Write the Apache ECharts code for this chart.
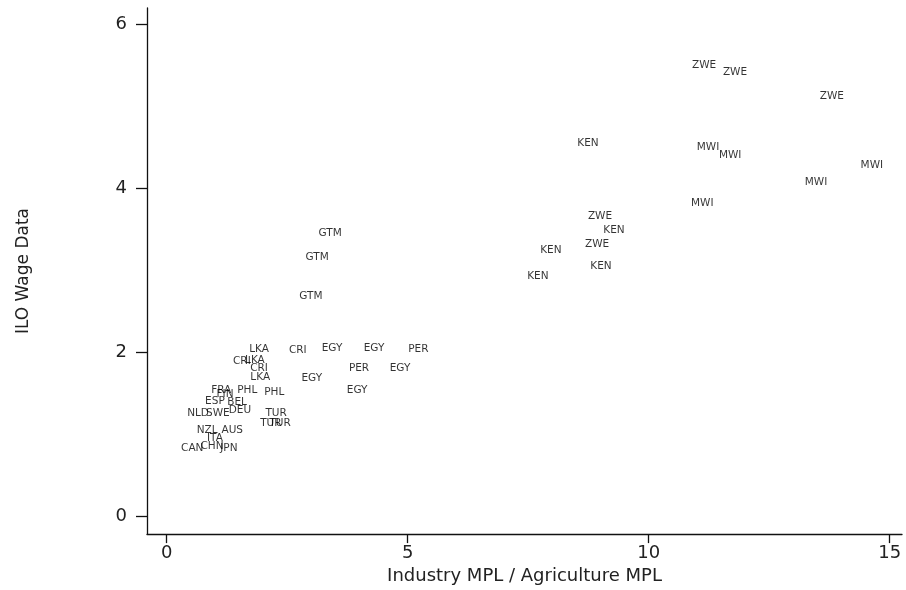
<!DOCTYPE html>
<html>
<head>
<meta charset="utf-8">
<script src="https://cdn.jsdelivr.net/npm/echarts@6/dist/echarts.min.js"></script>
<style>
  html, body { margin: 0; padding: 0; background: #fff; }
  #chart { width: 906px; height: 590px; }
</style>
</head>
<body>
<div id="chart"></div>
<script>
// Country labels and their coordinates (x: Industry MPL / Agriculture MPL, y: ILO wage data)
const countryLabels = [
  "ZWE","ZWE","ZWE","KEN","MWI","MWI","MWI","MWI","MWI","ZWE","KEN","ZWE","KEN","KEN","KEN",
  "GTM","GTM","GTM","CRI","EGY","EGY","PER","PER","EGY","EGY","EGY",
  "LKA","CRI","LKA","CRI","LKA","PHL","PHL","FRA","FIN","ESP","BEL","NLD","SWE","DEU","TUR","TUR","TUR","NZL","AUS","ITA","CAN","CHN","JPN"
];
const mplRatio = [
  11.15, 11.79, 13.80, 8.74, 11.23, 11.69, 14.63, 13.47, 11.11, 8.99, 9.28, 8.93, 7.97, 9.01, 7.70,
  3.39, 3.12, 2.99, 2.72, 3.43, 4.30, 5.22, 3.99, 4.84, 3.01, 3.95,
  1.915, 1.56, 1.83, 1.915, 1.94, 1.67, 2.23, 1.13, 1.21, 1.00, 1.46, 0.65, 1.06, 1.52, 2.27, 2.16, 2.35, 0.84, 1.36, 1.00, 0.53, 0.94, 1.29
];
const wageRatio = [
  5.51, 5.42, 5.13, 4.55, 4.50, 4.40, 4.28, 4.07, 3.82, 3.66, 3.49, 3.32, 3.25, 3.05, 2.93,
  3.45, 3.16, 2.68, 2.03, 2.05, 2.05, 2.04, 1.80, 1.80, 1.68, 1.53,
  2.04, 1.89, 1.90, 1.81, 1.69, 1.53, 1.51, 1.53, 1.49, 1.40, 1.39, 1.25, 1.26, 1.29, 1.26, 1.13, 1.13, 1.05, 1.05, 0.95, 0.83, 0.85, 0.83
];
const xTicks = [0, 5, 10, 15];
const yTicks = [0, 2, 4, 6];
const xTitle = "Industry MPL / Agriculture MPL";
const yTitle = "ILO Wage Data";

const points = countryLabels.map((c, i) => ({ name: c, value: [mplRatio[i], wageRatio[i]] }));

const chart = echarts.init(document.getElementById('chart'), null, { renderer: 'canvas' });
const axisFont = 'DejaVu Sans';
chart.setOption({
  animation: false,
  backgroundColor: '#ffffff',
  grid: { left: 147, right: 4, top: 8, bottom: 50, containLabel: false },
  xAxis: {
    type: 'value',
    min: -0.409, max: 15.255,
    name: xTitle,
    nameLocation: 'middle',
    nameGap: 25,
    nameTextStyle: { fontFamily: axisFont, fontSize: 18, color: '#222' },
    axisLine: { show: true, onZero: false, lineStyle: { color: '#111', width: 1.3 } },
    axisTick: { show: true, length: 9, customValues: xTicks, lineStyle: { color: '#111', width: 1.3 } },
    axisLabel: { show: true, customValues: xTicks, margin: 10, fontFamily: axisFont, fontSize: 18, color: '#222' },
    splitLine: { show: false }
  },
  yAxis: {
    type: 'value',
    min: -0.221, max: 6.204,
    name: yTitle,
    nameLocation: 'middle',
    nameRotate: 90,
    nameGap: 115,
    nameTextStyle: { fontFamily: axisFont, fontSize: 17, color: '#222' },
    axisLine: { show: true, onZero: false, lineStyle: { color: '#111', width: 1.3 } },
    axisTick: { show: true, length: 11, customValues: yTicks, lineStyle: { color: '#111', width: 1.3 } },
    axisLabel: { show: true, customValues: yTicks, margin: 20, fontFamily: axisFont, fontSize: 18, color: '#222' },
    splitLine: { show: false }
  },
  series: [{
    type: 'scatter',
    data: points,
    symbol: 'circle',
    symbolSize: 2,
    itemStyle: { color: 'rgba(0,0,0,0)' },
    label: {
      show: true,
      position: 'inside',
      formatter: p => p.name,
      fontFamily: axisFont,
      fontSize: 10.5,
      color: '#000'
    },
    labelLayout: { hideOverlap: false },
    emphasis: { disabled: true }
  }]
});
</script>
</body>
</html>
